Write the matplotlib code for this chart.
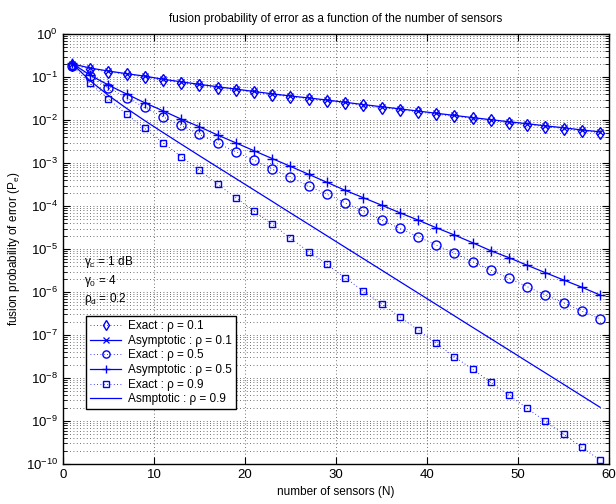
"""
Fusion probability of error vs. number of sensors
"""
import numpy as np
import matplotlib
matplotlib.use("Agg")
import matplotlib.pyplot as plt
from matplotlib.ticker import LogLocator, NullFormatter

COLOR = "#0000ff"

plt.rcParams["font.family"] = ["Liberation Sans", "DejaVu Sans"]
plt.rcParams["mathtext.fontset"] = "custom"
plt.rcParams["mathtext.rm"] = "Liberation Sans"
plt.rcParams["mathtext.it"] = "Liberation Sans:italic"
plt.rcParams["font.size"] = 8.5

# number of sensors (odd values 1..59)
n_sensors = list(range(1, 60, 2))

exact_01 = [0.191, 0.155, 0.132, 0.115, 0.100, 0.0851, 0.0741, 0.0646, 0.0569, 0.0501,
            0.0442, 0.0389, 0.0347, 0.0313, 0.0279, 0.0247, 0.0219, 0.0195, 0.0174, 0.0155,
            0.0137, 0.0122, 0.0109, 0.00977, 0.00871, 0.00785, 0.00700, 0.00631, 0.00562, 0.00507]
asym_01 = [0.204, 0.162, 0.138, 0.120, 0.105, 0.0891, 0.0776, 0.0676, 0.0596, 0.0525,
           0.0462, 0.0407, 0.0363, 0.0327, 0.0292, 0.0259, 0.0229, 0.0204, 0.0182, 0.0162,
           0.0144, 0.0128, 0.0114, 0.0102, 0.00912, 0.00822, 0.00733, 0.00661, 0.00589, 0.00531]
exact_05 = [0.180, 0.105, 0.0564, 0.0330, 0.0197, 0.0119, 0.00753, 0.00465, 0.00287, 0.00183,
            0.00117, 7.24e-4, 4.68e-4, 2.92e-4, 1.87e-4, 1.19e-4, 7.53e-5, 4.72e-5, 3.03e-5, 1.93e-5,
            1.24e-5, 7.93e-6, 5.07e-6, 3.25e-6, 2.08e-6, 1.33e-6, 8.51e-7, 5.64e-7, 3.61e-7, 2.36e-7]
asym_05 = [0.208, 0.111, 0.0652, 0.0403, 0.0252, 0.0164, 0.0105, 0.00698, 0.00448, 0.00295,
           0.00193, 0.00127, 8.36e-4, 5.46e-4, 3.56e-4, 2.32e-4, 1.56e-4, 1.05e-4, 6.98e-5, 4.72e-5,
           3.13e-5, 2.12e-5, 1.40e-5, 9.12e-6, 6.28e-6, 4.18e-6, 2.81e-6, 1.90e-6, 1.29e-6, 8.51e-7]
exact_09 = [0.182, 0.0713, 0.0308, 0.0136, 0.00641, 0.00296, 0.00140, 6.76e-4, 3.19e-4, 1.56e-4,
            7.66e-5, 3.75e-5, 1.79e-5, 8.65e-6, 4.41e-6, 2.15e-6, 1.05e-6, 5.26e-7, 2.67e-7, 1.31e-7,
            6.41e-8, 3.13e-8, 1.59e-8, 7.94e-9, 3.96e-9, 1.97e-9, 9.84e-10, 4.91e-10, 2.44e-10, 1.22e-10]
asym_09 = [0.209, 0.0818, 0.0376, 0.0187, 9.68e-3, 5.13e-3, 2.75e-3, 1.48e-3, 8.0e-4, 4.35e-4,
           2.36e-4, 1.28e-4, 6.9e-5, 3.75e-5, 2.03e-5, 1.10e-5, 5.97e-6, 3.24e-6, 1.75e-6, 9.5e-7,
           5.15e-7, 2.79e-7, 1.51e-7, 8.2e-8, 4.45e-8, 2.41e-8, 1.31e-8, 7.1e-9, 3.84e-9, 2.08e-9]

fig = plt.figure(figsize=(6.16, 5.04), dpi=100)
ax = fig.add_axes([0.102, 0.0794, 0.887, 0.853])

mk = dict(color=COLOR, markerfacecolor="none", markeredgecolor=COLOR)
ax.semilogy(n_sensors, exact_01, "d", linestyle=(0, (1, 3)), lw=0.6, ms=6.5, mew=1.0,
            label="Exact : ρ = 0.1", **mk)
ax.semilogy(n_sensors, asym_01, "x-", lw=0.9, ms=5, mew=0.9,
            label="Asymptotic : ρ = 0.1", **mk)
ax.semilogy(n_sensors, exact_05, "o", linestyle=(0, (1, 3)), lw=0.6, ms=6.5, mew=1.0,
            label="Exact : ρ = 0.5", **mk)
ax.semilogy(n_sensors, asym_05, "+-", lw=0.9, ms=7, mew=1.0,
            label="Asymptotic : ρ = 0.5", **mk)
ax.semilogy(n_sensors, exact_09, "s", linestyle=(0, (1, 3)), lw=0.6, ms=4.8, mew=1.0,
            label="Exact : ρ = 0.9", **mk)
ax.semilogy(n_sensors, asym_09, "-", lw=0.9, color=COLOR,
            label="Asmptotic : ρ = 0.9")

ax.set_xlim(0, 60)
ax.set_ylim(1e-10, 1e0)
ax.set_xticks(range(0, 61, 10))
ax.yaxis.set_major_locator(LogLocator(base=10, numticks=12))
ax.yaxis.set_minor_locator(LogLocator(base=10, subs=np.arange(2, 10), numticks=120))
ax.yaxis.set_minor_formatter(NullFormatter())

ax.grid(True, which="major", linestyle=(0, (1, 3)), color="0.25", lw=0.6)
ax.grid(True, which="minor", axis="y", linestyle=(0, (1, 3)), color="0.25", lw=0.6)
ax.tick_params(which="both", direction="in", top=True, right=True, labelsize=9.5)
ax.tick_params(which="major", length=5)
ax.tick_params(which="minor", length=3)
for s in ax.spines.values():
    s.set_linewidth(1.0)

ax.set_title("fusion probability of error as a function of the number of sensors",
             fontsize=8.5, pad=9)
ax.set_xlabel("number of sensors (N)", fontsize=8.5, labelpad=4)
ax.set_ylabel(r"fusion probability of error (P$_\mathrm{e}$)", fontsize=8.5, labelpad=3)

ax.text(2.3, 5.0e-6, r"γ$_\mathrm{c}$ = 1 dB", fontsize=8.5, va="center")
ax.text(2.3, 1.8e-6, r"γ$_\mathrm{0}$ = 4", fontsize=8.5, va="center")
ax.text(2.3, 7.0e-7, r"ρ$_\mathrm{d}$ = 0.2", fontsize=8.5, va="center")

leg = ax.legend(loc="lower left", bbox_to_anchor=(0.043, 0.127), fontsize=8.5,
                fancybox=False, framealpha=1, edgecolor="black", borderpad=0.35,
                labelspacing=0.22, handlelength=2.6, handletextpad=0.6,
                borderaxespad=0, markerscale=0.8)
leg.get_frame().set_linewidth(1.0)

fig.savefig("out.png", dpi=100)
